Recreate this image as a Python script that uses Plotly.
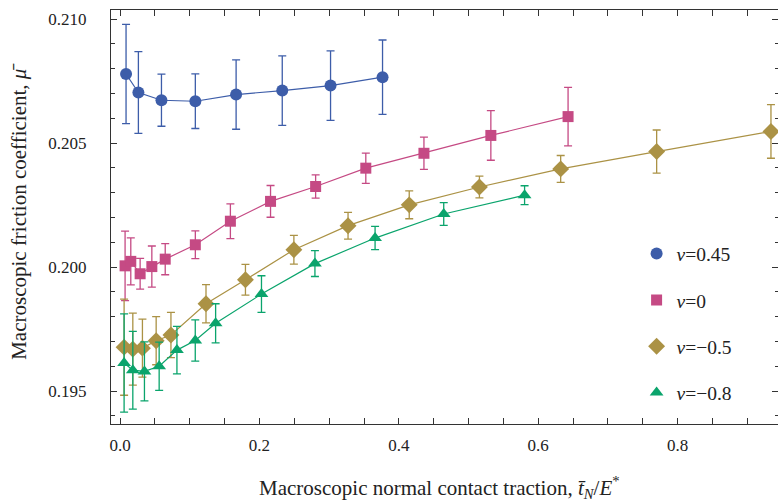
import plotly.graph_objects as go

# nu = 0.45
x_045 = [0.0086, 0.0263, 0.0594, 0.108, 0.1665, 0.2327, 0.302, 0.3766]
y_045 = [0.20779, 0.20704, 0.20673, 0.20669, 0.20696, 0.20712, 0.20732, 0.20766]
e_045 = [0.0020, 0.00165, 0.00105, 0.0011, 0.0014, 0.0014, 0.0014, 0.0015]

# nu = 0
x_0 = [0.0072, 0.0154, 0.0288, 0.0456, 0.0648, 0.108, 0.1583, 0.2159, 0.2806, 0.3526, 0.436, 0.532, 0.6428]
y_0 = [0.20005, 0.20023, 0.19973, 0.20002, 0.20032, 0.2009, 0.20185, 0.20265, 0.20325, 0.20399, 0.20459, 0.20531, 0.20607]
e_0 = [0.0014, 0.00095, 0.00062, 0.00083, 0.00063, 0.00056, 0.0007, 0.00064, 0.00047, 0.00061, 0.00065, 0.0010, 0.00118]

# nu = -0.5
x_m05 = [0.0058, 0.0183, 0.0321, 0.0518, 0.073, 0.1233, 0.1799, 0.2494, 0.3271, 0.4149, 0.5156, 0.6322, 0.7699, 0.9339]
y_m05 = [0.19677, 0.19669, 0.19673, 0.19703, 0.19726, 0.19852, 0.19949, 0.2007, 0.20167, 0.20251, 0.20323, 0.20396, 0.20466, 0.20547]
e_m05 = [0.00194, 0.00145, 0.00117, 0.00097, 0.00091, 0.00077, 0.00062, 0.00058, 0.00054, 0.00056, 0.00044, 0.00054, 0.00087, 0.00108]

# nu = -0.8
x_m08 = [0.0058, 0.0183, 0.035, 0.0561, 0.0816, 0.1079, 0.1371, 0.2029, 0.2796, 0.3659, 0.4644, 0.5804]
y_m08 = [0.19613, 0.19584, 0.19579, 0.196, 0.19665, 0.19704, 0.19773, 0.19891, 0.20014, 0.20117, 0.20214, 0.2029]
e_m08 = [0.00198, 0.00157, 0.00119, 0.00097, 0.00096, 0.00083, 0.00079, 0.00074, 0.00052, 0.00047, 0.00046, 0.00038]

labels = ["<i>ν</i>=0.45", "<i>ν</i>=0", "<i>ν</i>=−0.5", "<i>ν</i>=−0.8"]
colors = ["#3d5da9", "#c54a84", "#ab9245", "#0aa46c"]
symbols = ["circle", "square", "diamond", "triangle-up"]
sizes = [12, 11, 13, 12]

x_title = "Macroscopic normal contact traction, <i>t̄</i><sub><i>N</i></sub>/<i>E</i><sup>*</sup>"
y_title = "Macroscopic friction coefficient, <i>μ̄</i>"

series = [(x_045, y_045, e_045), (x_0, y_0, e_0), (x_m05, y_m05, e_m05), (x_m08, y_m08, e_m08)]

FONT = "Liberation Serif, Times New Roman, serif"
TXT = "#222"
fig = go.Figure()
for (xs, ys, es), lab, c, s, sz in zip(series, labels, colors, symbols, sizes):
    fig.add_trace(go.Scatter(
        x=xs, y=ys, mode="lines+markers",
        line=dict(color=c, width=1.2),
        marker=dict(color=c, symbol=s, size=sz, line=dict(width=0)),
        error_y=dict(type="data", array=es, visible=True, color=c, thickness=1.3, width=4),
        showlegend=False,
    ))
for lab, c, s, sz in zip(labels, colors, symbols, sizes):
    fig.add_trace(go.Scatter(
        x=[None], y=[None], mode="markers", name=lab, legendgroup=lab,
        marker=dict(color=c, symbol=s, size=sz, line=dict(width=0)),
    ))

# invisible trace on right y axis so its ticks show
fig.add_trace(go.Scatter(x=[None], y=[None], yaxis="y2", showlegend=False))

yr = [0.19367, 0.21037]
tickfont = dict(family=FONT, size=17, color=TXT)
fig.update_layout(
    width=778, height=502,
    margin=dict(l=111, r=0, t=10, b=78),
    paper_bgcolor="white", plot_bgcolor="white",
    font=dict(family=FONT, size=17, color=TXT),
    xaxis=dict(
        range=[-0.013, 0.944], showgrid=False, zeroline=False,
        showline=True, linecolor="#333", linewidth=1, mirror="allticks",
        ticks="inside", ticklen=6, tickcolor="#333", dtick=0.2, tick0=0, tickformat=".1f",
        minor=dict(ticks="inside", ticklen=3.5, dtick=0.05, tickcolor="#333"),
        ticklabelstandoff=6, tickfont=tickfont,
    ),
    yaxis=dict(
        range=yr, showgrid=False, zeroline=False,
        showline=True, linecolor="#333", linewidth=1, mirror=False,
        ticks="inside", ticklen=6, tickcolor="#333", dtick=0.005, tick0=0.195, tickformat=".3f",
        minor=dict(ticks="inside", ticklen=3.5, dtick=0.001, tickcolor="#333"),
        ticklabelstandoff=20, tickfont=tickfont,
    ),
    yaxis2=dict(
        range=yr, overlaying="y", side="right", showgrid=False, zeroline=False, showline=False,
        ticks="inside", ticklen=6, tickcolor="#333", dtick=0.005, tick0=0.195, showticklabels=False,
        minor=dict(ticks="inside", ticklen=3.5, dtick=0.001, tickcolor="#333"),
    ),
    legend=dict(
        x=0.788, y=0.458, xanchor="left", yanchor="top",
        traceorder="grouped", tracegroupgap=18, bgcolor="rgba(0,0,0,0)",
        font=dict(family=FONT, size=19.5, color=TXT),
    ),
    annotations=[
        dict(text=x_title, xref="paper", yref="paper", x=0.493, y=-0.194,
             xanchor="center", yanchor="bottom", showarrow=False,
             font=dict(family=FONT, size=21, color=TXT)),
        dict(text=y_title, xref="paper", yref="paper", x=-0.137, y=0.514,
             xanchor="center", yanchor="middle", textangle=-90, showarrow=False,
             font=dict(family=FONT, size=21, color=TXT)),
    ],
)
fig.write_html("out.html")
